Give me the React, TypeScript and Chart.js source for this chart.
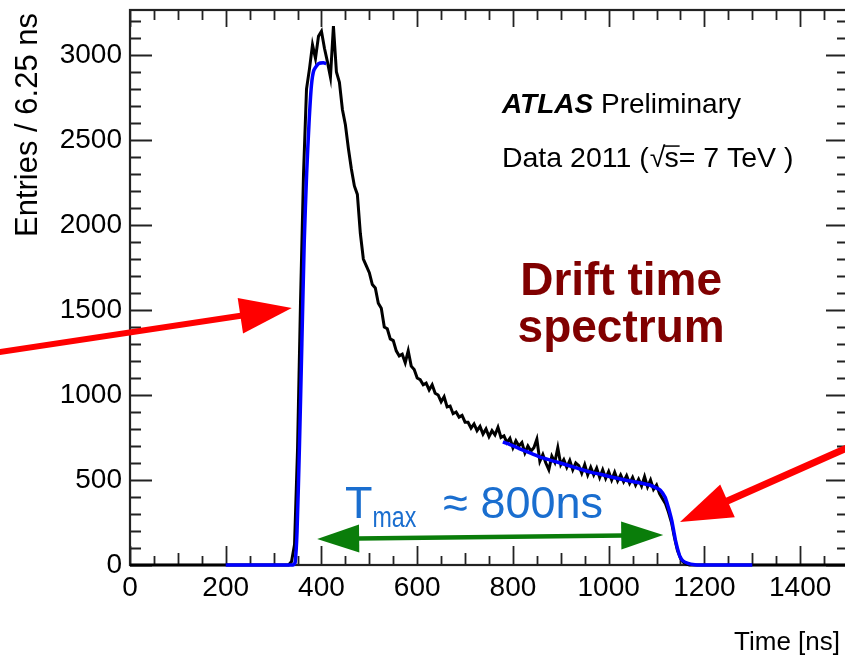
import React, { useEffect, useRef } from 'react';
import { Chart, registerables } from 'chart.js';

Chart.register(...registerables);

// ---------- data ----------
const BIN_WIDTH = 6.25; // ns per bin
const FIRST_BIN_TIME = 331.25; // ns, first non-empty bin
const X_MIN = 0;
const X_MAX = 1500;
const Y_MIN = 0;
const Y_MAX = 3265;

// Entries per 6.25 ns bin, starting at FIRST_BIN_TIME
const ENTRIES = [
  0, 20, 120, 680, 1550, 2300, 2800, 2920, 3060, 2980,
  3110, 3140, 3040, 2960, 2870, 3170, 2900, 2840, 2680, 2590,
  2450, 2330, 2230, 2180, 1950, 1800, 1760, 1720, 1650, 1630,
  1540, 1510, 1400, 1390, 1330, 1320, 1260, 1230, 1240, 1190,
  1260, 1170, 1150, 1100, 1090, 1060, 1070, 1030, 1060, 1010,
  1000, 960, 990, 930, 935, 890, 900, 870, 880, 840,
  840, 805, 830, 790, 815, 770, 800, 755, 790, 765,
  810, 750, 760, 720, 745, 690, 730, 700, 720, 660,
  700, 670, 690, 740, 610, 650, 600, 560, 640, 605,
  690, 590, 620, 575, 615, 560, 600, 585, 540, 590,
  530, 575, 530, 570, 515, 560, 510, 550, 500, 545,
  495, 530, 490, 525, 480, 515, 470, 505, 465, 520,
  460, 500, 445, 470, 420, 390, 360, 310, 250, 160,
  85, 40, 15, 5, 0,
];

// Leading-edge (t0) fit
const T0_FIT_TIME = [200, 340, 345, 349, 354, 359, 364, 369, 374, 379, 384, 394, 404, 410];
const T0_FIT_VALUE = [0, 0, 15, 200, 700, 1300, 1900, 2300, 2600, 2820, 2910, 2950, 2955, 2950];

// Trailing-edge (tmax) fit
const TMAX_FIT_TIME = [779, 788, 813, 837, 862, 887, 911, 936, 960, 985, 1010, 1034, 1059, 1084, 1098, 1108, 1118, 1124, 1128, 1132, 1136, 1140, 1144, 1149, 1155, 1166, 1180, 1190, 1300];
const TMAX_FIT_VALUE = [724, 715, 685, 658, 630, 610, 590, 568, 548, 532, 515, 500, 487, 472, 455, 440, 398, 345, 305, 260, 200, 140, 95, 50, 25, 10, 2, 0, 0];

const X_TICKS = [0, 200, 400, 600, 800, 1000, 1200, 1400];
const Y_TICKS = [0, 500, 1000, 1500, 2000, 2500, 3000];
const X_MINOR_STEP = 50;
const X_MEDIUM_STEP = 100;
const Y_MINOR_STEP = 100;

const X_TITLE = 'Time [ns]';
const Y_TITLE = 'Entries / 6.25 ns';

const FONT = '"Liberation Sans", Arial, Helvetica, sans-serif';

// annotation anchors in data coordinates [time, entries]
const LEFT_ARROW = { from: [-300, 1241], to: [338, 1512] };
const RIGHT_ARROW = { from: [1525, 723], to: [1149, 253] };
const TMAX_ARROW = { from: [391, 153], to: [1114, 176] };
const ATLAS_POS = [777, 2659];
const DATA_POS = [777, 2341];
const DRIFT_POS = [1026, 1588];
const SPECTRUM_POS = [1026, 1312];
const TMAX_TEXT_POS = [449, 276];

function drawArrow(
  ctx: CanvasRenderingContext2D,
  x1: number, y1: number, x2: number, y2: number,
  color: string, width: number, head: number, half: number, both: boolean
) {
  const a = Math.atan2(y2 - y1, x2 - x1);
  const c = Math.cos(a), s = Math.sin(a);
  ctx.save();
  ctx.strokeStyle = color;
  ctx.fillStyle = color;
  ctx.lineWidth = width;
  ctx.lineCap = 'butt';
  ctx.beginPath();
  const sx = both ? x1 + (head - 2) * c : x1;
  const sy = both ? y1 + (head - 2) * s : y1;
  ctx.moveTo(sx, sy);
  ctx.lineTo(x2 - (head - 2) * c, y2 - (head - 2) * s);
  ctx.stroke();
  const tip = (tx: number, ty: number, dc: number, ds: number) => {
    ctx.beginPath();
    ctx.moveTo(tx, ty);
    ctx.lineTo(tx - head * dc + half * ds, ty - head * ds - half * dc);
    ctx.lineTo(tx - head * dc - half * ds, ty - head * ds + half * dc);
    ctx.closePath();
    ctx.fill();
  };
  tip(x2, y2, c, s);
  if (both) tip(x1, y1, -c, -s);
  ctx.restore();
}

const framePlugin = {
  id: 'rootFrame',
  beforeDatasetsDraw(chart: any) {
    const { ctx, chartArea: a, scales } = chart;
    const xs = scales.x, ys = scales.y;
    ctx.save();
    ctx.strokeStyle = '#222';
    ctx.lineWidth = 1.8;
    ctx.beginPath();
    // x ticks (bottom + top), pointing inward
    for (let v = X_MIN; v <= X_MAX + 0.001; v += X_MINOR_STEP) {
      const px = Math.round(xs.getPixelForValue(v)) + 0.5;
      let len = 9;
      if (v % 200 === 0) len = 19;
      else if (v % X_MEDIUM_STEP === 0) len = 12;
      ctx.moveTo(px, a.bottom);
      ctx.lineTo(px, a.bottom - len);
      const lenTop = v % 200 === 0 ? 17 : 10;
      ctx.moveTo(px, a.top);
      ctx.lineTo(px, a.top + lenTop);
    }
    // y ticks (left + right)
    for (let v = Y_MIN; v <= Y_MAX; v += Y_MINOR_STEP) {
      const py = Math.round(ys.getPixelForValue(v)) + 0.5;
      const len = v % 500 === 0 ? 22 : 11;
      ctx.moveTo(a.left, py);
      ctx.lineTo(a.left + len, py);
      ctx.moveTo(a.right, py);
      ctx.lineTo(a.right - len, py);
    }
    ctx.stroke();
    ctx.lineWidth = 2.2;
    ctx.strokeRect(a.left, a.top, a.right - a.left, a.bottom - a.top);
    ctx.restore();
  },
};

const annotationPlugin = {
  id: 'annotations',
  afterDraw(chart: any) {
    const { ctx, scales } = chart;
    const X = (t: number) => scales.x.getPixelForValue(t);
    const Y = (v: number) => scales.y.getPixelForValue(v);
    ctx.save();

    // axis titles
    ctx.fillStyle = '#000';
    ctx.font = `31px ${FONT}`;
    ctx.textBaseline = 'alphabetic';
    ctx.save();
    ctx.translate(37, 13);
    ctx.rotate(-Math.PI / 2);
    ctx.textAlign = 'right';
    ctx.fillText(Y_TITLE, 0, 0);
    ctx.restore();
    ctx.font = `26px ${FONT}`;
    ctx.textAlign = 'right';
    ctx.fillText(X_TITLE, 840, 650);

    // ATLAS label
    ctx.textAlign = 'left';
    let x0 = X(ATLAS_POS[0]);
    let y0 = Y(ATLAS_POS[1]);
    ctx.font = `italic bold 28px ${FONT}`;
    ctx.fillText('ATLAS', x0, y0);
    const w = ctx.measureText('ATLAS ').width;
    ctx.font = `28px ${FONT}`;
    ctx.fillText('Preliminary', x0 + w, y0);

    // Data 2011 (√s= 7 TeV )
    x0 = X(DATA_POS[0]);
    y0 = Y(DATA_POS[1]);
    ctx.font = `28.5px ${FONT}`;
    let cx = x0;
    const part1 = 'Data 2011 (';
    ctx.fillText(part1, cx, y0);
    cx += ctx.measureText(part1).width + 1;
    ctx.fillText('\u221A', cx, y0);
    cx += ctx.measureText('\u221A').width - 1;
    const sW = ctx.measureText('s').width;
    ctx.fillText('s', cx, y0);
    ctx.save();
    ctx.strokeStyle = '#000';
    ctx.lineWidth = 1.5;
    ctx.beginPath();
    ctx.moveTo(cx - 1, y0 - 21);
    ctx.lineTo(cx + sW + 1, y0 - 21);
    ctx.stroke();
    ctx.restore();
    cx += sW;
    ctx.fillText('= 7 TeV )', cx, y0);

    // Drift time spectrum
    ctx.fillStyle = '#800000';
    ctx.font = `bold 46px ${FONT}`;
    ctx.textAlign = 'center';
    ctx.fillText('Drift time', X(DRIFT_POS[0]), Y(DRIFT_POS[1]));
    ctx.fillText('spectrum', X(SPECTRUM_POS[0]), Y(SPECTRUM_POS[1]));

    // T_max ≈ 800ns
    ctx.fillStyle = '#1a6ecf';
    ctx.textAlign = 'left';
    const tx = X(TMAX_TEXT_POS[0]);
    const ty = Y(TMAX_TEXT_POS[1]);
    ctx.font = `45px ${FONT}`;
    ctx.fillText('T', tx, ty);
    const wT = ctx.measureText('T').width;
    ctx.save();
    ctx.translate(tx + wT, ty + 9);
    ctx.scale(0.8, 1);
    ctx.font = `29px ${FONT}`;
    ctx.fillText('max', 0, 0);
    const wMax = ctx.measureText('max').width * 0.8;
    ctx.restore();
    ctx.font = `45px ${FONT}`;
    ctx.fillText('\u2248 800ns', tx + wT + wMax + 27, ty);

    // arrows
    drawArrow(ctx, X(LEFT_ARROW.from[0]), Y(LEFT_ARROW.from[1]), X(LEFT_ARROW.to[0]), Y(LEFT_ARROW.to[1]), '#ff0000', 6, 52, 18, false);
    drawArrow(ctx, X(RIGHT_ARROW.from[0]), Y(RIGHT_ARROW.from[1]), X(RIGHT_ARROW.to[0]), Y(RIGHT_ARROW.to[1]), '#ff0000', 7, 52, 18, false);
    drawArrow(ctx, X(TMAX_ARROW.from[0]), Y(TMAX_ARROW.from[1]), X(TMAX_ARROW.to[0]), Y(TMAX_ARROW.to[1]), '#0a7d0a', 4.5, 42, 14, true);

    ctx.restore();
  },
};

export default function App() {
  const canvasRef = useRef<HTMLCanvasElement | null>(null);

  useEffect(() => {
    const canvas = canvasRef.current;
    if (!canvas) return;

    const histPoints = [
      { x: X_MIN, y: 0 },
      ...ENTRIES.map((v, i) => ({ x: FIRST_BIN_TIME + i * BIN_WIDTH, y: v })),
      { x: X_MAX, y: 0 },
    ];
    const t0Points = T0_FIT_TIME.map((t, i) => ({ x: t, y: T0_FIT_VALUE[i] }));
    const tmaxPoints = TMAX_FIT_TIME.map((t, i) => ({ x: t, y: TMAX_FIT_VALUE[i] }));

    const tickFont = { family: FONT, size: 28 };

    const chart = new Chart(canvas, {
      type: 'line',
      data: {
        datasets: [
          { label: 't0 fit', data: t0Points, borderColor: '#0000ff', borderWidth: 3.5, pointRadius: 0, tension: 0.2, fill: false, order: 0, clip: false } as any,
          { label: 'tmax fit', data: tmaxPoints, borderColor: '#0000ff', borderWidth: 3.5, pointRadius: 0, tension: 0.2, fill: false, order: 0, clip: false } as any,
          { label: 'Data', data: histPoints, borderColor: '#000', borderWidth: 3, pointRadius: 0, tension: 0, borderJoinStyle: 'miter', fill: false, order: 1, clip: false } as any,
        ],
      },
      options: {
        animation: false,
        responsive: false,
        devicePixelRatio: 1,
        layout: { padding: { left: 0, right: 12, top: 10, bottom: 0 } },
        plugins: { legend: { display: false }, tooltip: { enabled: false } },
        scales: {
          x: {
            type: 'linear',
            min: X_MIN,
            max: X_MAX,
            grid: { display: false, drawTicks: false },
            border: { display: false },
            afterBuildTicks: (s: any) => { s.ticks = X_TICKS.map((v) => ({ value: v })); },
            afterFit: (s: any) => { s.height = 95; s.paddingLeft = 0; s.paddingRight = 0; },
            ticks: { font: tickFont, color: '#000', padding: 6, maxRotation: 0, autoSkip: false, callback: (v: any) => String(v) },
          },
          y: {
            type: 'linear',
            min: Y_MIN,
            max: Y_MAX,
            grid: { display: false, drawTicks: false },
            border: { display: false },
            afterBuildTicks: (s: any) => { s.ticks = Y_TICKS.map((v) => ({ value: v })); },
            afterFit: (s: any) => { s.width = 130; s.paddingTop = 0; s.paddingBottom = 0; },
            ticks: { font: tickFont, color: '#000', padding: 8, autoSkip: false, callback: (v: any) => String(v) },
          },
        },
      } as any,
      plugins: [framePlugin, annotationPlugin],
    });

    return () => chart.destroy();
  }, []);

  return (
    <div style={{ position: 'fixed', left: 0, top: 0, width: 845, height: 660, overflow: 'hidden', background: '#fff' }}>
      <canvas ref={canvasRef} width={860} height={660} style={{ display: 'block' }} />
    </div>
  );
}
